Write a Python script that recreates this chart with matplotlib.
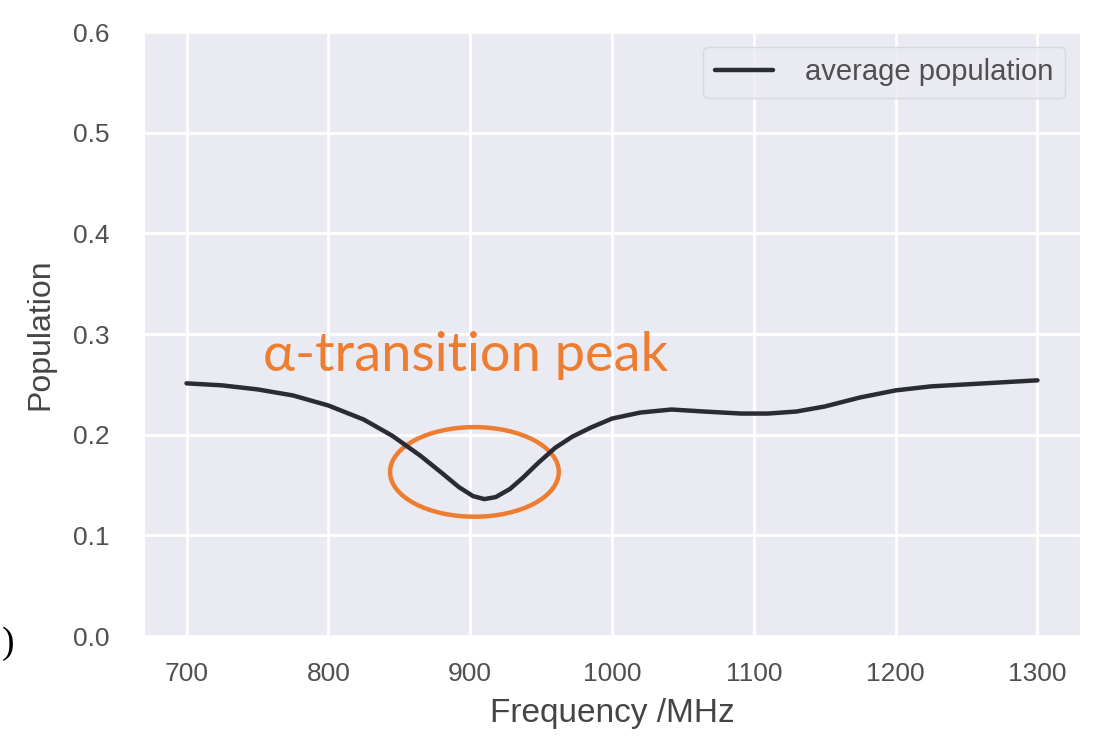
import numpy as np
import matplotlib.pyplot as plt
import seaborn as sns
from matplotlib.patches import Ellipse

# average population vs frequency
freq = [700, 725, 750, 775, 800, 825, 845, 865, 880, 892, 902, 910, 918, 928, 937, 948, 960, 972,
        985, 1000, 1020, 1042, 1065, 1091, 1110, 1130, 1150, 1175, 1200, 1225, 1250, 1275, 1300]
population = [0.251, 0.249, 0.245, 0.239, 0.229, 0.215, 0.199, 0.179, 0.162, 0.148, 0.139, 0.136,
              0.138, 0.146, 0.157, 0.172, 0.187, 0.198, 0.207, 0.216, 0.222, 0.225, 0.223, 0.221,
              0.221, 0.223, 0.228, 0.237, 0.244, 0.248, 0.250, 0.252, 0.254]
xticks = [700, 800, 900, 1000, 1100, 1200, 1300]
yticks = [0.0, 0.1, 0.2, 0.3, 0.4, 0.5, 0.6]

sns.set_style('darkgrid')
plt.rcParams['font.family'] = ['Liberation Sans', 'DejaVu Sans']

fig = plt.figure(figsize=(10.94, 7.38), dpi=100)
ax = fig.add_axes([0.1316, 0.1382, 0.9872 - 0.1316, 0.9566 - 0.1382])

ax.plot(freq, population, color='#2b2b35', lw=3.2, solid_joinstyle='round',
        label='average population')

ax.set_xlim(670, 1330)
ax.set_ylim(0, 0.6)
ax.set_xticks(xticks)
ax.set_yticks(yticks)
ax.set_yticklabels(['%.1f' % v for v in yticks])
ax.tick_params(axis='x', labelsize=19, pad=15, labelcolor='#505050')
ax.tick_params(axis='y', labelsize=19, pad=21, labelcolor='#505050')
ax.grid(color='white', lw=2)

ax.set_xlabel('Frequency /MHz', fontsize=24, color='#454545', labelpad=9)
ax.set_ylabel('Population', fontsize=23, color='#454545', labelpad=13)

leg = ax.legend(loc='upper right', fontsize=21, handlelength=2.0, frameon=True,
                borderpad=0.4, handletextpad=1.1)
leg.get_frame().set_edgecolor('#d4d4dc')
leg.get_frame().set_facecolor('#eaeaf2')
for t in leg.get_texts():
    t.set_color('#505050')

orange = '#ed7d31'
ax.text(754, 0.263, '\u03b1-transition peak', color=orange, fontsize=39,
        family=['Lato', 'DejaVu Sans'], va='baseline')
ax.add_patch(Ellipse((903, 0.163), 119, 0.089, fill=False, ec=orange, lw=3.2))

fig.text(0.002, 0.128, ')', fontsize=27, family='Liberation Serif', color='black',
         va='center', ha='left')

fig.savefig('out.png', dpi=100)
